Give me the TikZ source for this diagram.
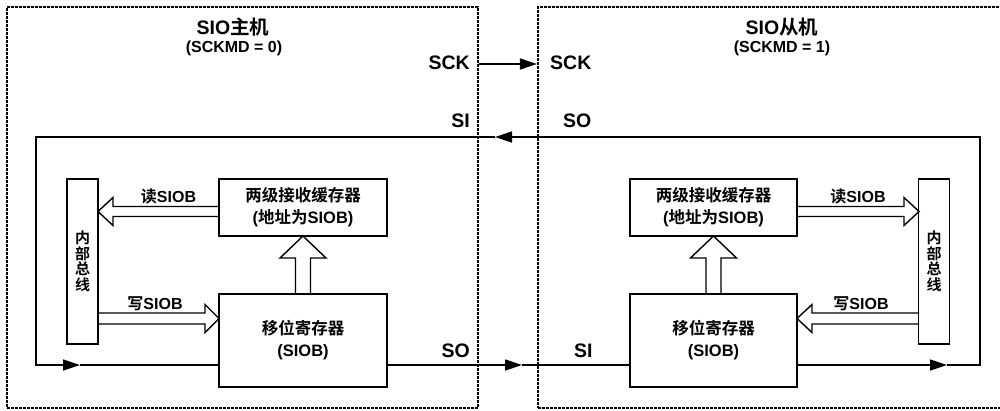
\documentclass[tikz,border=0pt]{standalone}
\usepackage{fontspec}
\setmainfont{Liberation Sans}
\newfontfamily\cjk{Noto Sans CJK SC}[BoldFont={Noto Sans CJK SC Bold}]
\newcommand{\zh}[1]{{\cjk\bfseries #1}}
\usetikzlibrary{arrows.meta}
\begin{document}
\begin{tikzpicture}[
  x=1pt, y=-1pt,
  frame/.style={draw,line width=2.1pt,dash pattern=on 2.7pt off 1.3pt,inner sep=0pt},
  box/.style={draw,line width=1.4pt,inner sep=0pt,align=center,font=\bfseries\fontsize{16.5}{22}\selectfont},
  bus/.style={draw,line width=1.4pt,inner sep=0pt,align=center,minimum width=31pt,minimum height=165pt,font=\bfseries\fontsize{15}{15.5}\selectfont},
  wire/.style={line width=1.4pt},
  tip/.style={-{Triangle[length=17pt,width=11pt]}},
  blk/.style={draw,line width=1.4pt,line join=miter},
  lbl/.style={font=\bfseries\fontsize{19.5}{19.5}\selectfont,inner sep=0pt},
  sub/.style={font=\bfseries\fontsize{16}{16}\selectfont,inner sep=0pt},
  tag/.style={font=\bfseries\fontsize{16}{16}\selectfont,inner sep=0pt},
]
  \useasboundingbox (0,0) rectangle (1000,410);

  % frames
  \node[frame,minimum width=471pt,minimum height=401pt] (mframe) at (242.5,207.5) {};
  \node[frame,minimum width=472pt,minimum height=401pt] (sframe) at (774,207.5) {};
  \node[lbl] (mtitle) at (233,27) {SIO\zh{主机}};
  \node[sub] (mmode)  at (234,48) {(SCKMD = 0)};
  \node[lbl] (stitle) at (782,27) {SIO\zh{从机}};
  \node[sub] (smode)  at (782,48) {(SCKMD = 1)};

  % master side
  \node[bus] (bus1) at (82.5,261.5) {\zh{内}\\\zh{部}\\\zh{总}\\\zh{线}};
  \node[box,minimum width=168pt,minimum height=57pt] (buf1) at (303,207.5) {\zh{两级接收缓存器}\\(\zh{地址为}SIOB)};
  \node[box,minimum width=168pt,minimum height=93pt] (sr1) at (303,340.5) {\zh{移位寄存器}\\(SIOB)};
  % hollow arrows
  \draw[blk] (219,206.5) -- (113,206.5) -- (113,197.5) -- (98,211.5) -- (113,225.5) -- (113,216.5) -- (219,216.5);
  \draw[blk] (98,313) -- (205,313) -- (205,304.5) -- (219,318.5) -- (205,332.5) -- (205,324) -- (98,324);
  \draw[blk] (295.5,294) -- (295.5,258) -- (280,258) -- (303,236) -- (326,258) -- (310.5,258) -- (310.5,294);
  \node[tag] (rd1) at (168.5,196) {\zh{读}SIOB};
  \node[tag] (wr1) at (155,304) {\zh{写}SIOB};

  % slave side
  \node[bus] (bus2) at (934,261.5) {\zh{内}\\\zh{部}\\\zh{总}\\\zh{线}};
  \node[box,minimum width=167pt,minimum height=57pt] (buf2) at (713.5,207.5) {\zh{两级接收缓存器}\\(\zh{地址为}SIOB)};
  \node[box,minimum width=167pt,minimum height=93pt] (sr2) at (713.5,340.5) {\zh{移位寄存器}\\(SIOB)};
  % hollow arrows
  \draw[blk] (797,206.5) -- (904,206.5) -- (904,197.5) -- (919,211.5) -- (904,225.5) -- (904,216.5) -- (797,216.5);
  \draw[blk] (919,313) -- (812,313) -- (812,304.5) -- (797,318.5) -- (812,332.5) -- (812,324) -- (919,324);
  \draw[blk] (706,294) -- (706,258) -- (690.5,258) -- (713.5,236) -- (736.5,258) -- (721,258) -- (721,294);
  \node[tag] (rd2) at (858,196) {\zh{读}SIOB};
  \node[tag] (wr2) at (861,304) {\zh{写}SIOB};

  % pin labels
  \node[lbl,anchor=east]  (msck) at (470,63)  {SCK};
  \node[lbl,anchor=west]  (ssck) at (550,63)  {SCK};
  \node[lbl,anchor=east]  (msi)  at (470,121) {SI};
  \node[lbl,anchor=west]  (sso)  at (563,121) {SO};
  \node[lbl,anchor=east]  (mso)  at (470,351) {SO};
  \node[lbl,anchor=west]  (ssi)  at (574,351) {SI};

  % wiring
  \coordinate (sck) at (0,64);
  \coordinate (top) at (0,137);
  \coordinate (bot) at (0,365);
  \coordinate (ra) at (947,365);
  \coordinate (rc) at (980,365);
  \coordinate (rt) at (980,137);
  \coordinate (ta) at (495,137);
  \coordinate (lt) at (36,137);
  \coordinate (lc) at (36,365);
  \coordinate (la) at (80,365);
  \coordinate (ma) at (522,365);
  \draw[wire,tip] (mframe.east |- sck) -- (sframe.west |- sck);
  \draw[wire,tip] (sr2.east |- bot) -- (ra);
  \draw[wire,tip] (ra) -- (rc) -- (rt) -- (ta);
  \draw[wire,tip] (ta) -- (lt) -- (lc) -- (la);
  \draw[wire] (la) -- (sr1.west |- bot);
  \draw[wire,tip] (sr1.east |- bot) -- (ma);
  \draw[wire] (ma) -- (sr2.west |- bot);
\end{tikzpicture}
\end{document}
